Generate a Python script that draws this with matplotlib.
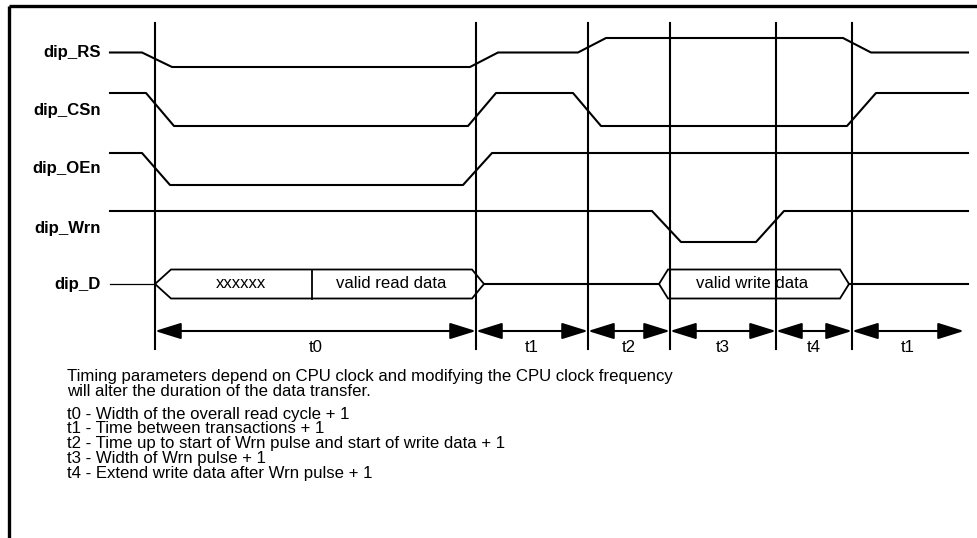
import matplotlib
matplotlib.use("Agg")
import matplotlib.pyplot as plt
from matplotlib.patches import Polygon

plt.rcParams['font.family'] = ['Liberation Sans', 'DejaVu Sans']

# signal names and their row (low level y, swing) in drawing units
names = ["dip_RS", "dip_CSn", "dip_OEn", "dip_Wrn", "dip_D"]
label_y = [52, 110, 169, 229, 284]
row_low = [67, 126, 185, 242]
row_swing = [29, 33, 32, 31]

# waveforms: edge times and logic levels (1 = high)
rs_t = [110, 142, 172, 470, 498, 578, 606, 843, 871, 968]
rs_v = [0.5, 0.5, 0, 0, 0.5, 0.5, 1, 1, 0.5, 0.5]
csn_t = [110, 146, 174, 468, 496, 573, 601, 847, 876, 968]
csn_v = [1, 1, 0, 0, 1, 1, 0, 0, 1, 1]
oen_t = [110, 142, 170, 463, 492, 968]
oen_v = [1, 1, 0, 0, 1, 1]
wrn_t = [110, 652, 681, 756, 784, 968]
wrn_v = [1, 1, 0, 0, 1, 1]
waves = [(rs_t, rs_v), (csn_t, csn_v), (oen_t, oen_v), (wrn_t, wrn_v)]

# data bus
bus_mid, bus_half = 284, 14.5
read_bus = (155, 171, 472, 484)
read_split = 312
write_bus = (659, 668, 840, 849)
bus_text = [("xxxxxx", 241), ("valid read data", 391), ("valid write data", 752)]

# timing markers and periods
markers = [155, 476, 588, 670, 776, 852]
period_end = 964
period_labels = ["t0", "t1", "t2", "t3", "t4", "t1"]

note_lines = ["Timing parameters depend on CPU clock and modifying the CPU clock frequency",
              "will alter the duration of the data transfer."]
legend_lines = ["t0 - Width of the overall read cycle + 1",
                "t1 - Time between transactions + 1",
                "t2 - Time up to start of Wrn pulse and start of write data + 1",
                "t3 - Width of Wrn pulse + 1",
                "t4 - Extend write data after Wrn pulse + 1"]

fs = 12.1

fig = plt.figure(figsize=(9.77, 5.38), dpi=100)
ax = fig.add_axes([0, 0, 1, 1])
ax.set_xlim(0, 977)
ax.set_ylim(538, 0)
ax.axis("off")

# frame (top and left only)
ax.plot([9, 977], [6, 6], color="black", lw=2.4, solid_capstyle="butt")
ax.plot([9, 9], [6, 538], color="black", lw=2.4, solid_capstyle="butt")

for name, y in zip(names, label_y):
    ax.text(101, y, name, ha="right", va="center", fontsize=fs, fontweight="bold")

for (t, v), low, sw in zip(waves, row_low, row_swing):
    ax.plot(t, [low - sw * lv for lv in v], color="black", lw=1.5)

# data bus
lw_bus = 1.3
ax.plot([110, read_bus[0]], [bus_mid, bus_mid], color="black", lw=0.9)
for a, b, c, d in [read_bus, write_bus]:
    pts = [(a, bus_mid), (b, bus_mid - bus_half), (c, bus_mid - bus_half),
           (d, bus_mid), (c, bus_mid + bus_half), (b, bus_mid + bus_half)]
    ax.add_patch(Polygon(pts, closed=True, fill=False, ec="black", lw=lw_bus))
ax.plot([read_split, read_split], [bus_mid - bus_half, bus_mid + bus_half], color="black", lw=lw_bus)
ax.plot([read_bus[3], write_bus[0]], [bus_mid, bus_mid], color="black", lw=1.5)
ax.plot([write_bus[3], 968], [bus_mid, bus_mid], color="black", lw=1.5)
for s, x in bus_text:
    ax.text(x, bus_mid, s, ha="center", va="center", fontsize=fs)

for x in markers:
    ax.plot([x, x], [23, 349], color="black", lw=1.5)

bounds = markers + [period_end]
for i, lab in enumerate(period_labels):
    x0, x1 = bounds[i], bounds[i + 1]
    ax.annotate("", xy=(x1, 331), xytext=(x0, 331),
                arrowprops=dict(arrowstyle="<|-|>,head_length=1.6,head_width=0.5",
                                color="black", lw=1.5, shrinkA=0, shrinkB=0))
    ax.text((x0 + x1) / 2, 347, lab, ha="center", va="center", fontsize=fs)

for i, s in enumerate(note_lines):
    ax.text(67, 376 + i * 16, s, ha="left", va="center", fontsize=fs)
for i, s in enumerate(legend_lines):
    ax.text(67, 414 + i * 14.8, s, ha="left", va="center", fontsize=fs)

fig.savefig("out.png", dpi=100)
